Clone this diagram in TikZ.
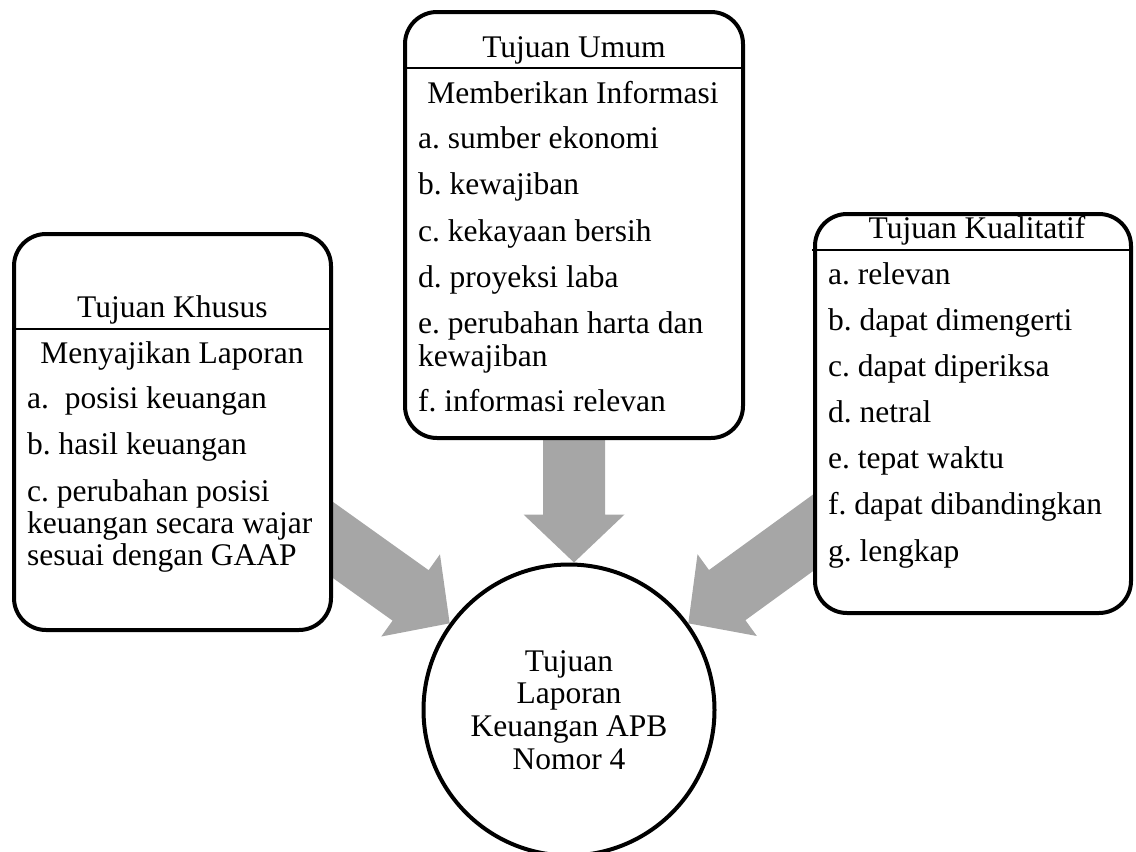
\documentclass[tikz,border=0pt]{standalone}
\usepackage{fontspec}
\setmainfont{Liberation Serif}
\usetikzlibrary{calc}
\pgfdeclarelayer{background}
\pgfsetlayers{background,main}
\definecolor{arrowgray}{HTML}{A6A6A6}
\newcommand\bodyfont{\fontsize{31.5pt}{32.6pt}\selectfont\frenchspacing}
\newcommand\blockarrow[2]{%
  \coordinate (hb) at ($(#2)!48pt!(#1)$);
  \fill[arrowgray] ($(#1)!31pt!90:(#2)$) -- ($(hb)!31pt!90:(#2)$) -- ($(hb)!50.5pt!90:(#2)$) -- (#2)
    -- ($(hb)!50.5pt!-90:(#2)$) -- ($(hb)!31pt!-90:(#2)$) -- ($(#1)!31pt!-90:(#2)$) -- cycle;}
\tikzset{
  box/.style={draw, line width=4pt, rounded corners=32pt, fill=white, inner sep=0pt},
  sepline/.style={line width=1.5pt},
  txt/.style={inner sep=0pt, anchor=base west, font=\bodyfont},
  ctr/.style={inner sep=0pt, anchor=base, font=\bodyfont},
  hub/.style={draw, circle, line width=4pt, fill=white, minimum size=291pt, inner sep=0pt, align=center, font=\bodyfont},
}
\begin{document}
\frenchspacing
\begin{tikzpicture}[x=1pt, y=-1pt]
\useasboundingbox (0,0) rectangle (1136,852);
% boxes
\node[box, minimum width=317pt, minimum height=396pt] (lbox) at (172.5,432) {};
\node[box, minimum width=338pt, minimum height=426pt] (mbox) at (574,225) {};
\node[box, minimum width=316pt, minimum height=399pt] (rbox) at (973,413.5) {};
\node[hub] (circ) at (569,710) {Tujuan\\Laporan\\Keuangan APB\\Nomor 4};
% separators
\draw[sepline] (14,329) -- (331,329);
\draw[sepline] (405,68) -- (743,68);
\draw[sepline] (812,250) -- (1129,250);
% left box text
\node[ctr] (lt0) at (172.5,317) {Tujuan Khusus};
\node[ctr] (lt1) at (172,363) {Menyajikan Laporan};
\node[txt] (la) at (27,408) {a.\ \ posisi keuangan};
\node[txt] (lb) at (27,454) {b. hasil keuangan};
\node[txt] (lc1) at (27,501) {c. perubahan posisi};
\node[txt] (lc2) at (27,533) {keuangan secara wajar};
\node[txt] (lc3) at (27,565) {sesuai dengan GAAP};
% middle box text
\node[ctr] (mt0) at (574,57) {Tujuan Umum};
\node[ctr] (mt1) at (573,103) {Memberikan Informasi};
\node[txt] (ma) at (418,148) {a. sumber ekonomi};
\node[txt] (mb) at (418,194) {b. kewajiban};
\node[txt] (mc) at (418,241) {c. kekayaan bersih};
\node[txt] (md) at (418,287) {d. proyeksi laba};
\node[txt] (me1) at (418,333) {e. perubahan harta dan};
\node[txt] (me2) at (418,366) {kewajiban};
\node[txt] (mf) at (418,411) {f. informasi relevan};
% right box text
\node[ctr] (rt0) at (977,238) {Tujuan Kualitatif};
\node[txt] (ra) at (828,284) {a. relevan};
\node[txt] (rb) at (828,330) {b. dapat dimengerti};
\node[txt] (rc) at (828,376) {c. dapat diperiksa};
\node[txt] (rd) at (828,422) {d. netral};
\node[txt] (re) at (828,468) {e. tepat waktu};
\node[txt] (rf) at (828,514) {f. dapat dibandingkan};
\node[txt] (rg) at (828,561) {g. lengkap};
% block arrows
\begin{pgfonlayer}{background}
  \coordinate (lsA) at (298,515);
  \coordinate (lsB) at (circ.144);
  \coordinate (msA) at ($(mbox.south)+(0,-20)$);
  \coordinate (msB) at (mbox.south |- circ.north);
  \coordinate (rsA) at (850,506);
  \coordinate (rsB) at (circ.36);
  \blockarrow{lsA}{lsB}
  \blockarrow{msA}{msB}
  \blockarrow{rsA}{rsB}
\end{pgfonlayer}
\end{tikzpicture}
\end{document}
